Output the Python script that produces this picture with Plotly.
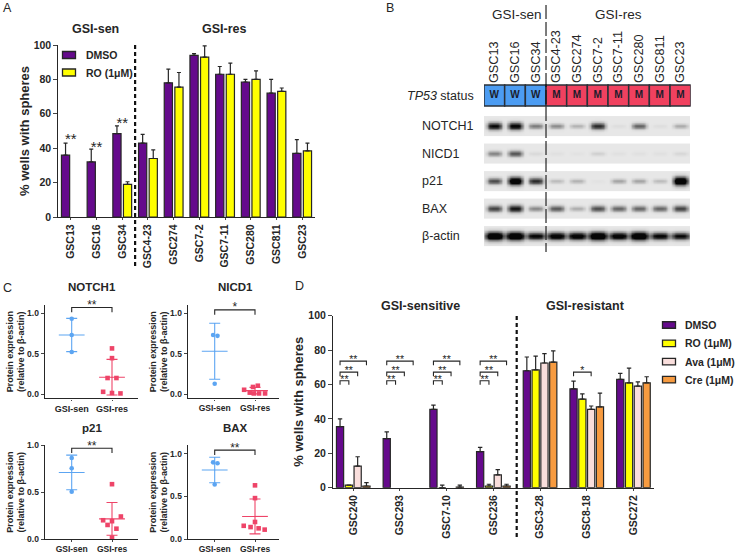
import numpy as np
import plotly.graph_objects as go

W, H = 736, 554
FONT = "Liberation Sans"
INK = "#262626"
PURPLE, YELLOW, PINK, ORANGE = "#650A8C", "#FFFF00", "#F9DEDC", "#F79B40"
BLUE, RED = "#5CA5F2", "#EE4468"

# ---------- Panel A ----------
a_cats = ["GSC13", "GSC16", "GSC34", "GSC4-23", "GSC274", "GSC7-2", "GSC7-11", "GSC280", "GSC811", "GSC23"]
a_dmso = [36, 32, 48.5, 43, 78, 94, 83, 78.5, 72, 37]
a_dmso_top = [43, 39.5, 53, 48, 86, 95, 87.5, 80, 80, 45]
a_ro = [0, 0, 19, 34, 75.5, 93, 83, 80, 73, 38.5]
a_ro_top = [0, 0, 20.5, 39, 84, 99.5, 89.5, 85, 75, 43]
a_star_idx = [0, 1, 2]
a_star_y = [44.5, 40.2, 54.2]

# ---------- Panel B ----------
b_cats = list(a_cats)
b_status = ["W", "W", "W", "M", "M", "M", "M", "M", "M", "M"]
b_blots = ["NOTCH1", "NICD1", "p21", "BAX", "β-actin"]
b_notch1 = [.95, 1, .45, .38, .22, .8, .04, .55, .04, .25]
b_nicd1 = [.42, .62, .06, .03, .02, .1, .03, .03, .03, .07]
b_p21 = [.65, 1.2, .8, .18, .22, .02, .28, .28, .18, 1.3]
b_bax = [.7, .9, .4, .6, .25, .65, .55, .55, .55, .7]
b_actin = [1.3, 1.3, 1, 1.1, 1.1, 1.3, 1.1, 1.3, 1, .95]

# ---------- Panel C ----------
c_titles = ["NOTCH1", "NICD1", "p21", "BAX"]
c_cats = ["GSI-sen", "GSI-res"]
c_sen_x = [[0, 0, 0], [-.04, .07, 0], [0, 0, 0], [-.04, .07, 0]]
c_sen_y = [[.93, .73, .52], [.73, .72, .13], [.865, .755, .505], [.9, .89, .64]]
c_res_x = [[1, 1, .89, 1.11, .78, 1, 1.21], [.73, .95, 1.07, .87, .97, 1.1, 1.25],
           [1, 1.22, .78, 1, .89, 1.11, 1], [1, 1, 1, .72, .89, 1.09, 1.24]]
c_res_y = [[.565, .445, .2, .2, .03, .015, .01], [.055, .09, .105, .02, .01, .01, .01],
           [.585, .24, .2, .19, .15, .11, .015], [.63, .48, .2, .155, .14, .125, .11]]
c_sen_mean = [.73, .53, .71, .81]
c_sen_sd = [.205, .345, .185, .15]
c_res_mean = [.21, .045, .215, .265]
c_res_sd = [.22, .04, .175, .205]
c_stars = ["**", "*", "**", "**"]
c_ymax = [1.1, 1.1, 1.0, 1.1]
c_ymin = [-.05, -.05, 0, 0]
c_bracket = [(1.07, 1.01), (1.04, .98), (.968, .918), (1.043, .985)]

# ---------- Panel D ----------
d_cats = ["GSC240", "GSC293", "GSC7-10", "GSC236", "GSC3-28", "GSC8-18", "GSC272"]
d_series = ["DMSO", "RO (1μM)", "Ava (1μM)", "Cre (1μM)"]
d_dmso = [35.5, 28.5, 45.5, 21, 68, 57.5, 63]
d_dmso_top = [40, 32.5, 48, 23.5, 76, 62, 66.5]
d_ro = [1.5, 0, 0, 1, 68.5, 51.5, 61]
d_ro_top = [1.5, 0, 1.5, 2, 76.5, 54.5, 69.5]
d_ava = [12.5, 0, 0, 7.5, 72.5, 45.5, 59]
d_ava_top = [18, 0, 0, 10.5, 78, 47.5, 61.5]
d_cre = [1, 0, .3, 1, 73, 47, 61]
d_cre_top = [3, 0, 1.5, 2, 79.5, 55, 64.5]
d_bracket_levels = [62.2, 67.2, 73.6]
d_colors = [PURPLE, YELLOW, PINK, ORANGE]


def X(p): return p / W
def Y(p): return 1 - p / H
def dom_x(a, b): return [X(a), X(b)]
def dom_y(top, bottom): return [Y(bottom), Y(top)]


fig = go.Figure()
ann, shp = [], []


def note(x, y, text, size=12, bold=False, anchor="center", angle=0, color=INK):
    ann.append(dict(x=X(x), y=Y(y), xref="paper", yref="paper", text=f"<b>{text}</b>" if bold else text,
                    showarrow=False, xanchor=anchor, yanchor="middle", textangle=angle,
                    font=dict(family=FONT, size=size, color=color)))


def divider(xref, xval, top, bottom, width, dash):
    shp.append(dict(type="line", xref=xref, yref="paper", x0=xval, x1=xval, y0=Y(top), y1=Y(bottom),
                    line=dict(color="#111111", width=width, dash=dash)))


def swatch(x0, x1, yc, h, color):
    shp.append(dict(type="rect", xref="paper", yref="paper", x0=X(x0), x1=X(x1), y0=Y(yc - h / 2), y1=Y(yc + h / 2),
                    fillcolor=color, line=dict(color=INK, width=1.3)))


def bars(xa, ya, cats, vals, tops, color, offset, width, capw=2):
    # bars read as zero draw nothing above the baseline in the reference, so they carry no mark here
    shown = [v if t > 0 else None for v, t in zip(vals, tops)]
    fig.add_trace(go.Bar(x=list(range(len(cats))), y=shown, xaxis=xa, yaxis=ya, offset=offset, width=width,
                         marker=dict(color=color, line=dict(color=INK, width=1.2)), showlegend=False,
                         error_y=dict(type="data", symmetric=False,
                                      array=[t - v for t, v in zip(tops, vals)], arrayminus=[0] * len(vals),
                                      color=INK, thickness=1.2, width=capw)))


def bracket(xa, ya, x0, x1, top, low, star, size=11, gap=.0):
    fig.add_trace(go.Scatter(x=[x0, x0, x1, x1], y=[low, top, top, low], xaxis=xa, yaxis=ya, mode="lines",
                             line=dict(color=INK, width=1.1), showlegend=False, cliponaxis=False, hoverinfo="skip"))
    fig.add_trace(go.Scatter(x=[(x0 + x1) / 2], y=[top + gap], xaxis=xa, yaxis=ya, mode="text", text=[star],
                             textposition="middle center", textfont=dict(family=FONT, size=size, color=INK),
                             showlegend=False, cliponaxis=False, hoverinfo="skip"))


# Panel A
slot_a = 10.6 / 25.7
wid_a = 8.2 / 25.7
bars("x", "y", a_cats, a_dmso, a_dmso_top, PURPLE, -slot_a + (slot_a - wid_a) / 2, wid_a)
bars("x", "y", a_cats, a_ro, a_ro_top, YELLOW, (slot_a - wid_a) / 2, wid_a)
fig.add_trace(go.Scatter(x=a_star_idx, y=a_star_y, xaxis="x", yaxis="y", mode="text", text=["**"] * 3,
                         textfont=dict(family=FONT, size=15, color=INK), showlegend=False, cliponaxis=False))
divider("x", 2.5, 45, 268, 2.2, "4px,3px")
swatch(62.5, 75.5, 55, 7, PURPLE)
swatch(62.5, 75.5, 72.5, 7, YELLOW)
note(84, 55, "DMSO", 10.5, True, "left")
note(84, 73, "RO (1μM)", 10.5, True, "left")
note(95, 29, "GSI-sen", 12.5, True)
note(224, 29, "GSI-res", 12.5, True)

# Panel B: western blot rows rendered from the band intensities
lane_x = np.linspace(-.5, 9.42, 160)
rows = [1.11, 2.11, 3.11, 4.11, 5.11]
blot_vals = [b_notch1, b_nicd1, b_p21, b_bax, b_actin]
band_w = [.36, .36, .36, .37, .45]
for row, vals, bw in zip(rows, blot_vals, band_w):
    dy = np.linspace(-.35, .35, 31)
    z = np.full((len(dy), len(lane_x)), .05)
    for i, v in enumerate(vals):
        h = .115 * (.55 + .6 * v)
        z += v * np.outer(np.exp(-(dy / h) ** 2), np.exp(-((lane_x - i) / bw) ** 4))
    fig.add_trace(go.Heatmap(x=lane_x, y=row + dy, z=np.clip(z, 0, 1), xaxis="x2", yaxis="y2", zmin=0, zmax=1,
                             zsmooth="best", showscale=False, hoverinfo="skip",
                             colorscale=[[0, "#f3f3f3"], [1, "#060606"]]))
status_color = {"W": "#4C9CF2", "M": "#F0415F"}
fig.add_trace(go.Bar(x=list(range(10)), y=[.76] * 10, base=[-.38] * 10, width=1, xaxis="x2", yaxis="y2",
                     marker=dict(color=[status_color[s] for s in b_status], line=dict(color="#2a3038", width=1.5)),
                     showlegend=False, hoverinfo="skip"))
fig.add_trace(go.Scatter(x=list(range(10)), y=[0] * 10, xaxis="x2", yaxis="y2", mode="text", text=[f"<b>{s}</b>" for s in b_status],
                         textfont=dict(family=FONT, size=10, color="#1c1c2c"), showlegend=False))
note(476, 96, "<i>TP53</i> status", 12.5, False, "right")
for name, yp in zip(b_blots, [126, 154, 181, 209, 236]):
    note(420, yp, name, 12.5, False, "left")
note(516.5, 14, "GSI-sen", 13.5)
note(618, 14, "GSI-res", 13.5)
divider("x2", 2.5, 5, 252, 1.1, "14px,3px")

# Panel C
c_geo = [(45.3, 138, 305, 398.3), (188.3, 279, 305, 398.3), (45.3, 138, 445.3, 539), (188.3, 279, 445.3, 539)]
for k in range(4):
    xa, ya = f"x{k + 3}", f"y{k + 3}"
    for xs, ys, m, sd, col, sym, cx in ((c_sen_x[k], c_sen_y[k], c_sen_mean[k], c_sen_sd[k], BLUE, "circle", 0),
                                         (c_res_x[k], c_res_y[k], c_res_mean[k], c_res_sd[k], RED, "square", 1)):
        fig.add_trace(go.Scatter(x=[cx], y=[m], xaxis=xa, yaxis=ya, mode="markers", marker=dict(size=1, color=col),
                                 error_y=dict(type="data", array=[sd], color=col, thickness=1.1, width=5.5),
                                 error_x=dict(type="data", array=[.32], color=col, thickness=1.1, width=0),
                                 showlegend=False, cliponaxis=False))
        fig.add_trace(go.Scatter(x=xs, y=ys, xaxis=xa, yaxis=ya, mode="markers",
                                 marker=dict(size=4.6, color=col, symbol=sym), showlegend=False, cliponaxis=False))
    top, low = c_bracket[k]
    span = (c_geo[k][3] - c_geo[k][2]) / (c_ymax[k] - c_ymin[k])
    bracket(xa, ya, 0, 1, top, low, c_stars[k], 12, 1.5 / span)
note(91.7, 287, "NOTCH1", 11.5, True)
note(235, 287, "NICD1", 11.5, True)
note(91.7, 428, "p21", 11.5, True)
note(235, 428, "BAX", 11.5, True)

# Panel D
slot_d = 8.8 / 46.67
wid_d = 7.2 / 46.67
d_vals = [d_dmso, d_ro, d_ava, d_cre]
d_tops = [d_dmso_top, d_ro_top, d_ava_top, d_cre_top]
for j in range(4):
    bars("x7", "y7", d_cats, d_vals[j], d_tops[j], d_colors[j], (j - 2) * slot_d + (slot_d - wid_d) / 2, wid_d, 2.2)
for g in range(4):
    for j, lvl in zip((1, 2, 3), d_bracket_levels):
        bracket("x7", "y7", g + (-1.5) * slot_d, g + (j - 1.5) * slot_d, lvl, lvl - 2.4, "**", 10.5, 0.2)
bracket("x7", "y7", 5 + (-1.5) * slot_d, 5 + .5 * slot_d, 67.2, 64.8, "*", 10.5, 0.2)
divider("x7", 3.5, 316, 538, 2.2, "4px,3px")
for name, col, yp in zip(d_series, d_colors, [325, 343.3, 361.7, 379.7]):
    swatch(662.5, 675.5, yp, 6.5, col)
    note(683, yp, name, 10.5, True, "left")
note(420.3, 306, "GSI-sensitive", 12.5, True)
note(585, 306, "GSI-resistant", 12.5, True)

# Panel letters
for t, xp, yp in (("A", 7, 8), ("B", 390, 8), ("C", 7, 288), ("D", 299, 286)):
    note(xp, yp, t, 12.5)

fig.update_traces(hoverinfo="skip")


def bold_font(size):
    return dict(family=FONT, size=size, color=INK)


def bold_labels(seq):
    return [f"<b>{s}</b>" for s in seq]


def xaxis_cfg(dom, rng, cats, yanchor, size=10.5, angle=-90, ticklen=2):
    return dict(domain=dom, range=rng, anchor=yanchor, tickmode="array", tickvals=list(range(len(cats))),
                ticktext=bold_labels(cats), tickangle=angle, tickfont=bold_font(size), showline=True, automargin=False,
                linecolor=INK, linewidth=1.4, ticks="outside", ticklen=ticklen, tickwidth=1.3, showgrid=False, zeroline=False)


def yaxis_cfg(dom, rng, vals, fmt, xanchor, size=10.5, title=None, tsize=12, standoff=6):
    cfg = dict(domain=dom, range=rng, anchor=xanchor, tickmode="array", tickvals=vals, automargin=False,
               ticktext=bold_labels([fmt.format(v) for v in vals]), tickfont=bold_font(size), showline=True,
               linecolor=INK, linewidth=1.4, ticks="outside", ticklen=3.5, tickwidth=1.3, showgrid=False, zeroline=False)
    if title:
        cfg["title"] = dict(text=title, font=dict(family=FONT, size=tsize, color=INK), standoff=standoff)
    return cfg


layout = dict(template="none", width=W, height=H, margin=dict(l=0, r=0, t=0, b=0, pad=0), paper_bgcolor="white", plot_bgcolor="white",
              barmode="overlay", showlegend=False, annotations=ann, shapes=shp, font=dict(family=FONT, color=INK))

layout["xaxis"] = xaxis_cfg(dom_x(58, 315), [-.5, 9.5], a_cats, "y")
layout["yaxis"] = yaxis_cfg(dom_y(45, 217), [0, 100], [0, 20, 40, 60, 80, 100], "{}", "x",
                            title="<b>% wells with spheres</b>", tsize=13, standoff=1)

layout["xaxis2"] = dict(domain=dom_x(484, 690.7), range=[-.5, 9.5], anchor="y2", side="top", showline=False,
                        showgrid=False, zeroline=False, ticks="", tickmode="array", tickvals=list(range(10)), automargin=False,
                        ticktext=b_cats, tickangle=-90, tickfont=dict(family=FONT, size=12.7, color=INK))
layout["yaxis2"] = dict(domain=dom_y(84, 252), range=[5.69, -.418], anchor="x2", visible=False, automargin=False)

for k, (x0, x1, top, bot) in enumerate(c_geo):
    xs, xe = ((x0 + 26.4), (x0 + 66.7))
    step = xe - xs
    rngx = [-(xs - x0) / step, (x1 - xs) / step]
    layout[f"xaxis{k + 3}"] = xaxis_cfg(dom_x(x0, x1), rngx, c_cats, f"y{k + 3}", 8.5 if k else 9, 0, 1.5)
    layout[f"yaxis{k + 3}"] = yaxis_cfg(dom_y(top, bot), [c_ymin[k], c_ymax[k]], [0, .5, 1], "{:.1f}", f"x{k + 3}", 8.5,
                                        "<b>Protein expression<br>(relative to β-actin)</b>", 9, 0)

layout["xaxis7"] = xaxis_cfg(dom_x(332.7, 654), [-.44, 6.44], d_cats, "y7")
layout["yaxis7"] = yaxis_cfg(dom_y(315.7, 487.7), [0, 100], [0, 20, 40, 60, 80, 100], "{}", "x7",
                             title="<b>% wells with spheres</b>", tsize=13, standoff=1)

fig.update_layout(**layout)
fig.write_html("out.html", config={"displayModeBar": False},
               post_script="document.body.style.margin='0';document.body.style.overflow='hidden';")
